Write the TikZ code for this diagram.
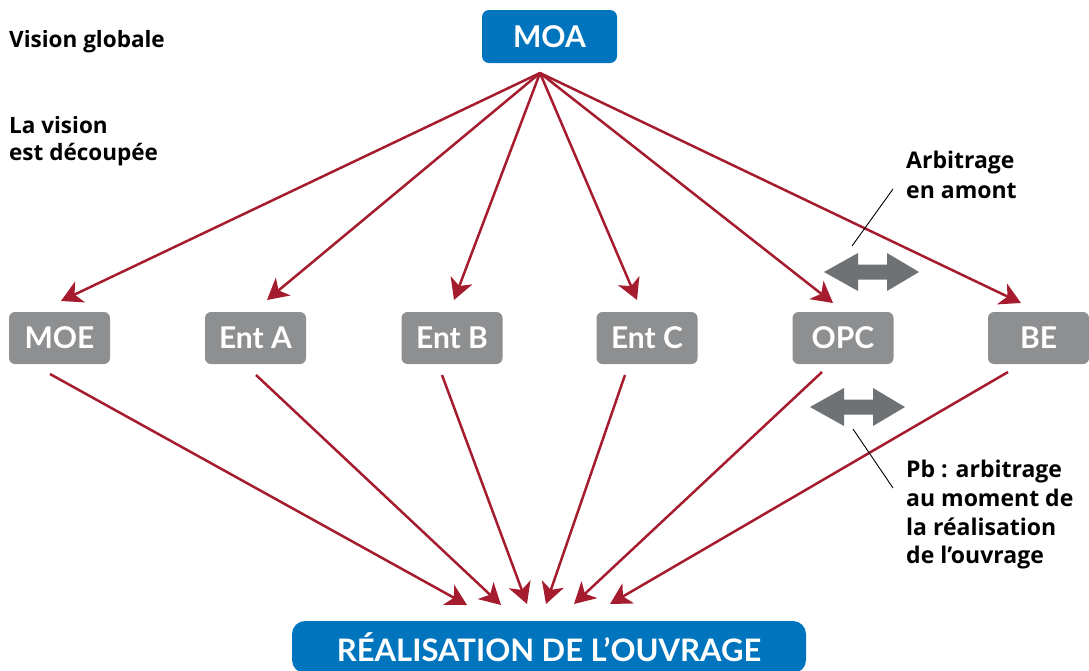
\documentclass[tikz,border=0pt]{standalone}
\usepackage{fontspec}
\setmainfont{Lato}
\newfontfamily\notefont{Open Sans}
\usetikzlibrary{arrows.meta}
\definecolor{moablue}{HTML}{0075BE}
\definecolor{boxgray}{HTML}{8E8F91}
\definecolor{linkred}{HTML}{A61C2F}
\definecolor{arbgray}{HTML}{6E7275}
\begin{document}
\begin{tikzpicture}[x=1pt,y=-1pt,
  bluebox/.style={fill=moablue,rounded corners=7pt,text=white,inner sep=0pt,
    font=\bfseries\fontsize{30}{30}\selectfont},
  actor/.style={fill=boxgray,rounded corners=6pt,text=white,inner sep=0pt,
    minimum width=101pt,minimum height=52pt,font=\bfseries\fontsize{30}{30}\selectfont},
  link/.style={draw=linkred,line width=2.5pt,
    -{Stealth[length=21pt,width=23pt,inset=6pt]}},
  note/.style={anchor=base west,inner sep=0pt,font=\notefont\bfseries\fontsize{23}{23}\selectfont},
  sidenote/.style={note,font=\notefont\bfseries\fontsize{22.5}{22.5}\selectfont},
  leader/.style={draw=black,line width=0.9pt},
  arb/.style={fill=arbgray}]
\useasboundingbox (0,0) rectangle (1089,670);

% top and bottom boxes
\node[bluebox,minimum width=135pt,minimum height=53pt] (moa) at (549.5,36.5) {MOA};
\node[bluebox,rounded corners=13pt,minimum width=514pt,minimum height=52pt,
  font=\bfseries\fontsize{31}{31}\selectfont] (real) at (549,647) {RÉALISATION DE L’OUVRAGE};

% the parties
\node[actor] (moe) at (59.5,338) {MOE};
\node[actor] (enta) at (255.5,338) {Ent A};
\node[actor] (entb) at (452,338) {Ent B};
\node[actor] (entc) at (647,338) {Ent C};
\node[actor] (opc) at (843,338) {OPC};
\node[actor] (be) at (1038.5,338) {BE};

% hub under MOA and arrow ends
\coordinate (hub) at (540,73);
\coordinate (moe-in) at (61,301);
\coordinate (enta-in) at (267,300);
\coordinate (entb-in) at (454,300);
\coordinate (entc-in) at (637,300);
\coordinate (opc-in) at (833,303);
\coordinate (be-in) at (1021,303);

\coordinate (moe-out) at (50,374);
\coordinate (enta-out) at (256,375);
\coordinate (entb-out) at (442,375);
\coordinate (entc-out) at (625,375);
\coordinate (opc-out) at (822,372);
\coordinate (be-out) at (1008,372);

\coordinate (real-in1) at (467,605);
\coordinate (real-in2) at (501,605);
\coordinate (real-in3) at (527,604);
\coordinate (real-in4) at (546,604);
\coordinate (real-in5) at (574,604);
\coordinate (real-in6) at (610,604);

\foreach \p in {moe,enta,entb,entc,opc,be}
  \draw[link] (hub) -- (\p-in);

\draw[link] (moe-out) -- (real-in1);
\draw[link] (enta-out) -- (real-in2);
\draw[link] (entb-out) -- (real-in3);
\draw[link] (entc-out) -- (real-in4);
\draw[link] (opc-out) -- (real-in5);
\draw[link] (be-out) -- (real-in6);

% two-way arbitration arrows
\fill[arb] (824,272) -- (858,253) -- (858,264.5) -- (887,264.5) -- (887,253)
  -- (919,272) -- (887,291) -- (887,279.5) -- (858,279.5) -- (858,291) -- cycle;
\fill[arb] (810,407) -- (844,388) -- (844,399.5) -- (873,399.5) -- (873,388)
  -- (905,407) -- (873,426) -- (873,414.5) -- (844,414.5) -- (844,426) -- cycle;

% leader lines
\coordinate (up-a) at (852,246);
\coordinate (up-b) at (893,189);
\coordinate (lo-a) at (853,429);
\coordinate (lo-b) at (893,488);
\draw[leader] (up-a) -- (up-b);
\draw[leader] (lo-a) -- (lo-b);

% side texts
\node[sidenote] (t1) at (9,47) {Vision globale};
\node[sidenote] (t2) at (9,133) {La vision};
\node[sidenote] (t3) at (9,160) {est découpée};

\node[note] (a1) at (906,168) {Arbitrage};
\node[note] (a2) at (906,198) {en amont};

\node[note] (b1) at (906,477) {Pb : arbitrage};
\node[note] (b2) at (906,506) {au moment de};
\node[note] (b3) at (906,535) {la réalisation};
\node[note] (b4) at (906,563) {de l’ouvrage};
\end{tikzpicture}
\end{document}
